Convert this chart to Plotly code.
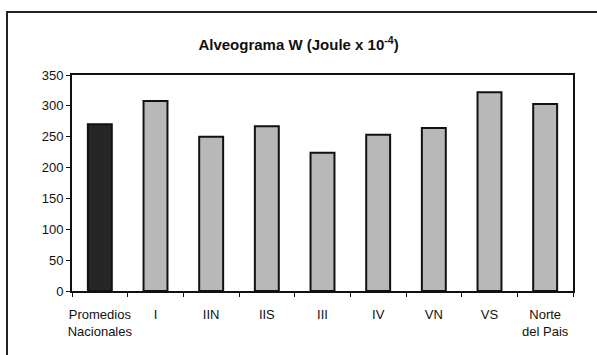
import plotly.graph_objects as go

# Alveograma W por región triguera
categorias = ["Promedios<br>Nacionales", "I", "IIN", "IIS", "III", "IV", "VN", "VS", "Norte<br>del Pais"]
valores = [270, 308, 250, 267, 224, 253, 264, 322, 303]
colores = ["#262626"] + ["#b8b8b8"] * 8

fuente = "Liberation Sans, Arial, sans-serif"

fig = go.Figure(
    go.Bar(
        x=categorias,
        y=valores,
        marker=dict(color=colores, line=dict(color="#111111", width=2)),
        width=0.43,
    )
)

W, H = 597, 355
L, R, T, B = 72, 24, 75, 64
pw, ph = W - L - R, H - T - B

def px_x(p):
    return (p - L) / pw

def px_y(p):
    return (H - B - p) / ph

fig.update_layout(
    width=W,
    height=H,
    margin=dict(l=L, r=R, t=T, b=B),
    paper_bgcolor="white",
    plot_bgcolor="white",
    showlegend=False,
    font=dict(family=fuente, size=12, color="#111111"),
    title=dict(
        text="<b>Alveograma W (Joule x 10<sup>-4</sup>)</b>",
        x=0.5,
        xanchor="center",
        y=1 - 45 / H,
        yanchor="middle",
        font=dict(family=fuente, size=15, color="#111111"),
    ),
    bargap=0.57,
    shapes=[
        dict(
            type="rect",
            xref="paper",
            yref="paper",
            x0=px_x(7),
            x1=px_x(603),
            y0=px_y(362),
            y1=px_y(12),
            line=dict(color="#222222", width=2),
            layer="below",
        )
    ],
)

fig.update_xaxes(
    type="category",
    showline=True,
    linecolor="#111111",
    linewidth=2,
    mirror=True,
    ticks="outside",
    tickson="boundaries",
    ticklen=4,
    tickcolor="#111111",
    tickangle=0,
    ticklabelstandoff=10,
    tickfont=dict(family=fuente, size=13, color="#111111"),
    showgrid=False,
)

fig.update_yaxes(
    range=[0, 350],
    tickvals=[0, 50, 100, 150, 200, 250, 300, 350],
    showline=True,
    linecolor="#111111",
    linewidth=2,
    mirror=True,
    ticks="outside",
    ticklen=4,
    tickcolor="#111111",
    tickfont=dict(family=fuente, size=13, color="#111111"),
    showgrid=False,
    zeroline=False,
)

fig.write_html("out.html")
